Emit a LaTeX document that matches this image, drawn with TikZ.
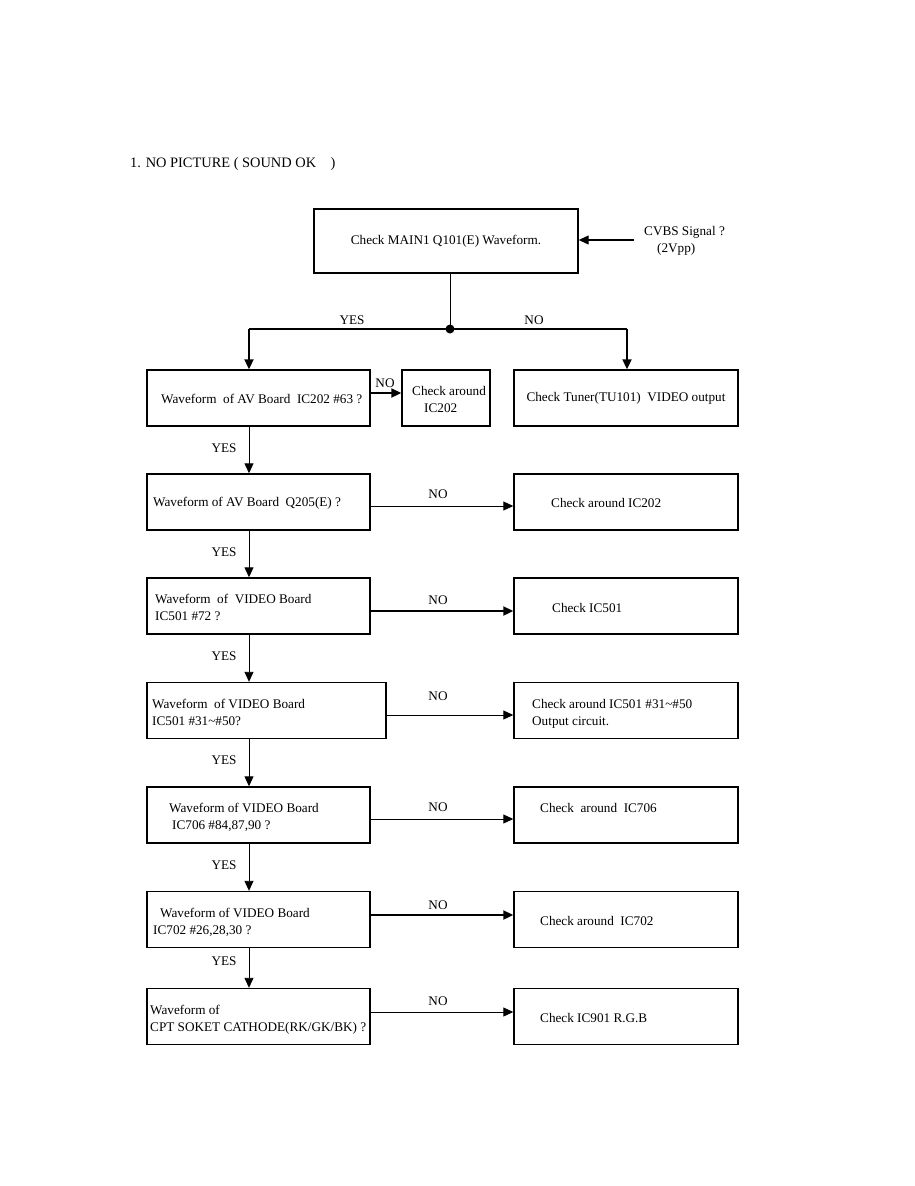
\documentclass[tikz,border=0pt]{standalone}
\usepackage{fontspec}
\setmainfont{Liberation Serif}
\usetikzlibrary{arrows.meta}
\begin{document}
\begin{tikzpicture}[x=1pt,y=-1pt,
 every node/.style={font=\fontsize{13.2}{17}\selectfont},
 box/.style={draw, line width=1.4pt, inner sep=0pt, minimum height=56pt,
   path picture={\draw[line width=2pt] (path picture bounding box.south west) -- (path picture bounding box.south east) -- (path picture bounding box.north east);}},
 txt/.style={anchor=north west, inner sep=0pt, align=left},
 lab/.style={inner sep=0pt},
 arr/.style={-{Triangle[length=10pt,width=9pt]}, line width=0.9pt},
 arrk/.style={-{Triangle[length=10pt,width=9pt]}, line width=2pt}]
\useasboundingbox (0,0) rectangle (914,1186);
\fill[white] (0,0) rectangle (914,1186);

\node[lab, anchor=mid west, font=\fontsize{14.4}{17}\selectfont] (title) at (130,165) {1. NO PICTURE ( SOUND OK\ \ \ \ )};

% top
\node[box, minimum width=264pt, minimum height=64pt] (top) at (446,241) {Check MAIN1 Q101(E) Waveform.};
\node[txt] (cvbs) at (644,226) {CVBS Signal ?\\\hspace*{13pt}(2Vpp)};
\coordinate (cv) at (634,240);
\draw[arr, line width=1.2pt] (cv) -- (top.east |- cv);

\coordinate (j) at (450,329);
\coordinate (ja) at (249,329);
\coordinate (jb) at (627,329);
\coordinate (yx) at (249,0);

% row 1
\node[box, minimum width=223pt] (l1) at (258.5,398) {};
\node[box, minimum width=88pt] (s1) at (446,398) {};
\node[box, minimum width=224pt] (t1) at (626,398) {Check Tuner(TU101)\ \ VIDEO output};
\node[txt] (l1t) at (161,394) {Waveform\ \ of AV Board\ \ IC202 \#63 ?};
\node[txt] (s1t) at (412,386) {Check around\\\hspace*{12pt}IC202};

\draw[line width=1pt] (top.south -| j) -- (j);
\draw[line width=2pt] (ja) -- (jb);
\draw[arrk] (ja) -- (l1.north -| ja);
\draw[arrk] (jb) -- (t1.north -| jb);
\fill (j) circle (4.5pt);
\node[lab] (yes0) at (352,320) {YES};
\node[lab] (no0) at (534,320) {NO};

\draw[arrk] ([yshift=5pt]l1.east) -- ([yshift=5pt]s1.west);
\node[lab] (no1) at (385,383) {NO};

% row 2
\node[box, minimum width=223pt] (l2) at (258.5,502) {};
\node[box, minimum width=224pt] (r2) at (626,502) {};
\node[txt] (l2t) at (153,497) {Waveform of AV Board\ \ Q205(E) ?};
\node[txt] (r2t) at (551,498) {Check around IC202};
\draw[arr] ([yshift=-4pt]l2.east) -- ([yshift=-4pt]r2.west);
\node[lab] (no2) at (438,494) {NO};

% row 3
\node[box, minimum width=223pt] (l3) at (258.5,606) {};
\node[box, minimum width=224pt] (r3) at (626,606) {};
\node[txt] (l3t) at (155,594) {Waveform\ \ of\ \ VIDEO Board\\IC501 \#72 ?};
\node[txt] (r3t) at (552,603) {Check IC501};
\draw[arrk] ([yshift=-5pt]l3.east) -- ([yshift=-5pt]r3.west);
\node[lab] (no3) at (438,600) {NO};

% row 4
\node[box, minimum width=239pt] (l4) at (266.5,710.5) {};
\node[box, minimum width=224pt] (r4) at (626,710.5) {};
\node[txt] (l4t) at (152,699) {Waveform\ \ of VIDEO Board\\IC501 \#31\textasciitilde\#50?};
\node[txt] (r4t) at (532,699) {Check around IC501 \#31\textasciitilde\#50\\Output circuit.};
\draw[arr] ([yshift=-4.5pt]l4.east) -- ([yshift=-4.5pt]r4.west);
\node[lab] (no4) at (438,696) {NO};

% row 5
\node[box, minimum width=223pt] (l5) at (258.5,815) {};
\node[box, minimum width=224pt] (r5) at (626,815) {};
\node[txt] (l5t) at (169,803) {Waveform of VIDEO Board\\\hspace*{3pt}IC706 \#84,87,90 ?};
\node[txt] (r5t) at (540,803) {Check\ \ around\ \ IC706};
\draw[arr] ([yshift=-4pt]l5.east) -- ([yshift=-4pt]r5.west);
\node[lab] (no5) at (438,807) {NO};

% row 6
\node[box, minimum width=223pt] (l6) at (258.5,919.5) {};
\node[box, minimum width=224pt] (r6) at (626,919.5) {};
\node[txt] (l6t) at (153,908) {\hspace*{7pt}Waveform of VIDEO Board\\IC702 \#26,28,30 ?};
\node[txt] (r6t) at (540,916) {Check around\ \ IC702};
\draw[arrk] ([yshift=4.5pt]l6.east) -- ([yshift=4.5pt]r6.west);
\node[lab] (no6) at (438,905) {NO};

% row 7
\node[box, minimum width=223pt] (l7) at (258.5,1016.5) {};
\node[box, minimum width=224pt] (r7) at (626,1016.5) {};
\node[txt] (l7t) at (150,1005) {Waveform of\\CPT SOKET CATHODE(RK/GK/BK) ?};
\node[txt] (r7t) at (540,1013) {Check IC901 R.G.B};
\draw[arr] ([yshift=4.5pt]l7.east) -- ([yshift=4.5pt]r7.west);
\node[lab] (no7) at (438,1001) {NO};

% vertical YES arrows
\draw[arr] (l1.south -| yx) -- (l2.north -| yx);
\draw[arr] (l2.south -| yx) -- (l3.north -| yx);
\draw[arr] (l3.south -| yx) -- (l4.north -| yx);
\draw[arr] (l4.south -| yx) -- (l5.north -| yx);
\draw[arr] (l5.south -| yx) -- (l6.north -| yx);
\draw[arr] (l6.south -| yx) -- (l7.north -| yx);
\node[lab] (yes1) at (224,448) {YES};
\node[lab] (yes2) at (224,552) {YES};
\node[lab] (yes3) at (224,656) {YES};
\node[lab] (yes4) at (224,760) {YES};
\node[lab] (yes5) at (224,865) {YES};
\node[lab] (yes6) at (224,961) {YES};
\end{tikzpicture}
\end{document}
